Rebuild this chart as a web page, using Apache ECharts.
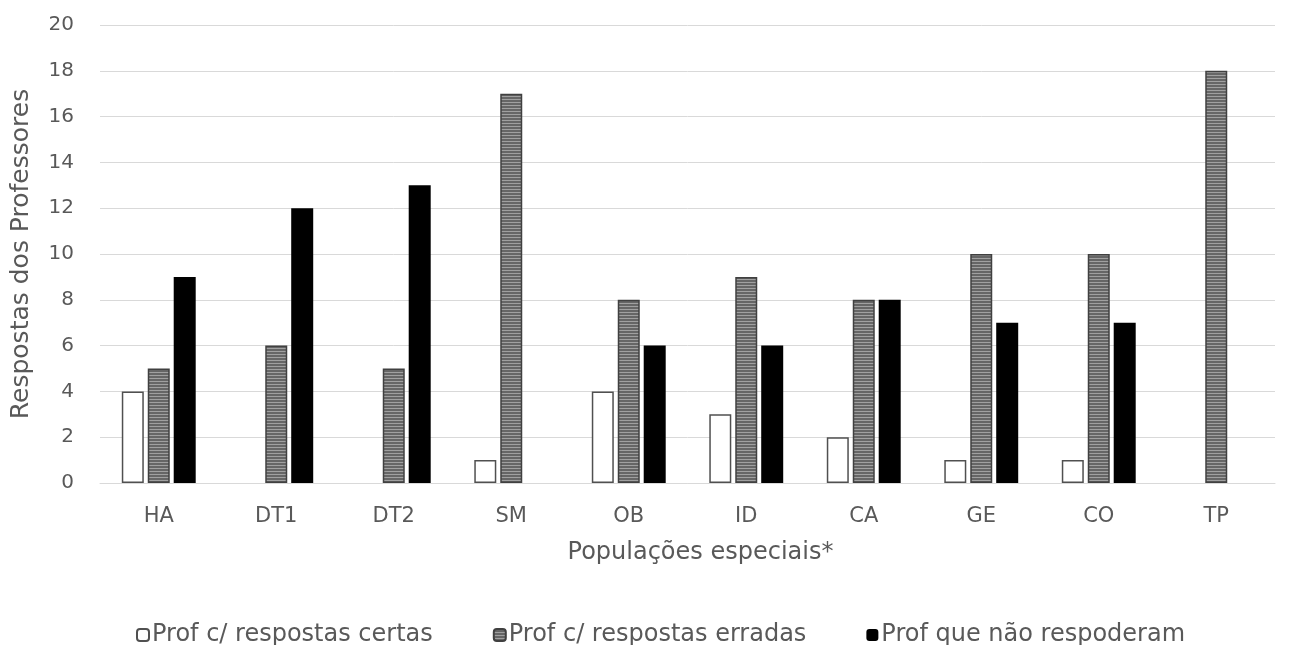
<!DOCTYPE html>
<html>
<head>
<meta charset="utf-8">
<script src="https://cdn.jsdelivr.net/npm/echarts@6/dist/echarts.min.js"></script>
<style>
  html, body { margin: 0; padding: 0; background: #fff; }
  #chart { width: 1291px; height: 645px; }
</style>
</head>
<body>
<div id="chart"></div>
<script>
const categories = ['HA', 'DT1', 'DT2', 'SM', 'OB', 'ID', 'CA', 'GE', 'CO', 'TP'];
const certas   = [4, 0, 0, 1, 4, 3, 2, 1, 1, 0];
const erradas  = [5, 6, 5, 17, 8, 9, 8, 10, 10, 18];
const naoResp  = [9, 12, 13, 0, 6, 6, 8, 7, 7, 0];
const yTicks   = [0, 2, 4, 6, 8, 10, 12, 14, 16, 18, 20];

// horizontal striped fill for the "erradas" series
function stripePattern() {
  const c = document.createElement('canvas');
  c.width = 4; c.height = 3;
  const ctx = c.getContext('2d');
  ctx.fillStyle = '#666666';
  ctx.fillRect(0, 0, 4, 3);
  ctx.fillStyle = '#a0a0a0';
  ctx.fillRect(0, 0, 4, 1);
  return c;
}

// zero-height bars get no outline so they stay invisible
function withHiddenZeros(values) {
  return values.map(v => (v === 0 ? { value: v, itemStyle: { borderWidth: 0 } } : v));
}

const textColor = '#595959';
const font = 'DejaVu Sans, Verdana, sans-serif';

const chart = echarts.init(document.getElementById('chart'));
chart.setOption({
  animation: false,
  textStyle: { fontFamily: font, color: textColor },
  grid: { left: 100, right: 16, top: 25, bottom: 162 },
  legend: {
    top: 618,
    left: 131,
    itemWidth: 12,
    itemHeight: 12,
    itemGap: 60,
    textStyle: { fontSize: 24, color: textColor, fontFamily: font, padding: [0, 0, 0, -2] },
    data: ['Prof c/ respostas certas', 'Prof c/ respostas erradas', 'Prof que não respoderam']
  },
  xAxis: {
    type: 'category',
    data: categories,
    name: 'Populações especiais*',
    nameLocation: 'middle',
    nameGap: 58,
    nameTextStyle: { fontSize: 24, color: textColor, padding: [0, 0, 0, 26] },
    axisLine: { lineStyle: { color: '#d9d9d9', width: 1 } },
    axisTick: { show: false },
    axisLabel: { fontSize: 21, color: textColor, margin: 23 }
  },
  yAxis: {
    type: 'value',
    min: yTicks[0],
    max: yTicks[yTicks.length - 1],
    interval: 2,
    name: 'Respostas dos Professores',
    nameLocation: 'middle',
    nameGap: 66,
    nameTextStyle: { fontSize: 25, color: textColor },
    axisLine: { show: false },
    axisTick: { show: false },
    axisLabel: { fontSize: 20, color: textColor, margin: 26 },
    splitLine: { lineStyle: { color: '#d9d9d9', width: 1 } }
  },
  series: [
    {
      name: 'Prof c/ respostas certas',
      type: 'bar',
      data: withHiddenZeros(certas),
      barWidth: 22,
      barGap: '18%',
      itemStyle: { color: '#ffffff', borderColor: '#505050', borderWidth: 1.5 }
    },
    {
      name: 'Prof c/ respostas erradas',
      type: 'bar',
      data: withHiddenZeros(erradas),
      barWidth: 22,
      barGap: '18%',
      itemStyle: {
        color: { image: stripePattern(), repeat: 'repeat' },
        borderColor: '#404040',
        borderWidth: 1.5
      }
    },
    {
      name: 'Prof que não respoderam',
      type: 'bar',
      data: withHiddenZeros(naoResp),
      barWidth: 22,
      barGap: '18%',
      itemStyle: { color: '#000000' }
    }
  ]
});
</script>
</body>
</html>
